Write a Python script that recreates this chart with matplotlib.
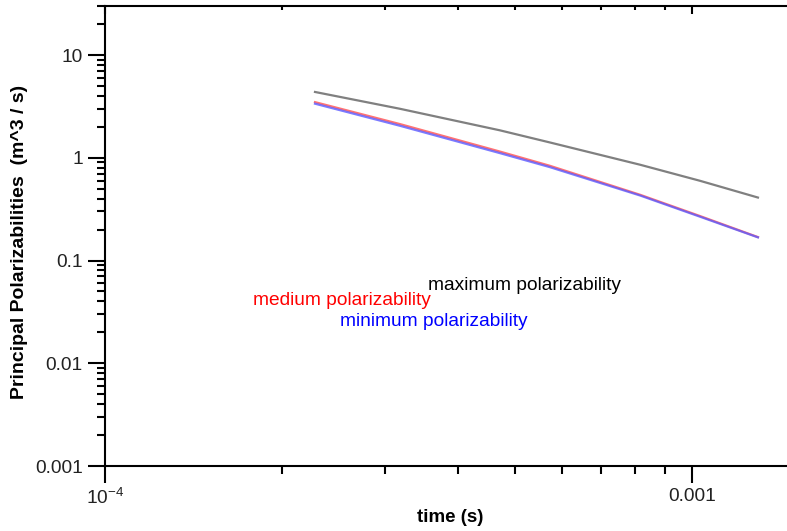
import matplotlib
matplotlib.use("Agg")
import matplotlib.pyplot as plt
from matplotlib.ticker import FixedLocator, FixedFormatter, NullFormatter

plt.rcParams['font.family'] = ['Liberation Sans', 'DejaVu Sans']
plt.rcParams['mathtext.fontset'] = 'custom'
plt.rcParams['mathtext.rm'] = 'Liberation Sans'
plt.rcParams['mathtext.it'] = 'Liberation Sans'

# data
time_s = [2.28e-4, 3.18e-4, 4.71e-4, 5.73e-4, 8.17e-4, 1.033e-3, 1.297e-3]
max_pol = [4.37, 3.00, 1.85, 1.41, 0.855, 0.597, 0.41]
med_pol = [3.48, 2.13, 1.15, 0.836, 0.436, 0.271, 0.169]
min_pol = [3.36, 2.05, 1.11, 0.811, 0.429, 0.267, 0.168]

x_ticks = [1e-4, 1e-3]
x_ticklabels = ['$10^{-4}$', '0.001']
y_ticks = [0.001, 0.01, 0.1, 1, 10]
y_ticklabels = ['0.001', '0.01', '0.1', '1', '10']

fig = plt.figure(figsize=(7.87, 5.31), dpi=100)
ax = fig.add_axes([105/787, 1-466/531, (795-105)/787, (466-6)/531])

ax.plot(time_s, max_pol, color='#808080', lw=1.6)
ax.plot(time_s, med_pol, color='#ff5050', lw=1.6, alpha=0.8)
ax.plot(time_s, min_pol, color='#5a5aff', lw=1.6, alpha=0.8)

ax.set_xscale('log')
ax.set_yscale('log')
ax.set_xlim(1e-4, 1.5e-3)
ax.set_ylim(0.001, 30)

ax.xaxis.set_major_locator(FixedLocator(x_ticks))
ax.xaxis.set_major_formatter(FixedFormatter(x_ticklabels))
ax.xaxis.set_minor_formatter(NullFormatter())
ax.yaxis.set_major_locator(FixedLocator(y_ticks))
ax.yaxis.set_major_formatter(FixedFormatter(y_ticklabels))
ax.yaxis.set_minor_formatter(NullFormatter())

for s in ax.spines.values():
    s.set_linewidth(1.5)
    s.set_color('black')

ax.tick_params(axis='both', which='major', direction='out', length=12, width=1.5,
               labelsize=13.8, labelcolor='#222222', pad=4)
ax.tick_params(axis='both', which='minor', direction='out', length=6, width=1.5)
ax.tick_params(axis='x', which='both', top=True)
ax.tick_params(axis='y', which='both', right=True)
for t in ax.xaxis.get_major_ticks():
    t.tick2line.set_markersize(6)
    t.tick2line.set_marker(3)
for t in ax.xaxis.get_minor_ticks():
    t.tick2line.set_markersize(3)
    t.tick2line.set_marker(3)
for t in ax.yaxis.get_major_ticks():
    t.tick2line.set_markersize(6)
    t.tick2line.set_marker(0)
for t in ax.yaxis.get_minor_ticks():
    t.tick2line.set_markersize(3)
    t.tick2line.set_marker(0)

ax.set_xlabel('time (s)', fontsize=13.5, fontweight='bold')
ax.set_ylabel('Principal Polarizabilities  (m^3 / s)', fontsize=14, fontweight='bold')
ax.xaxis.set_label_coords((450-105)/(795-105), -(509-466)/460)
ax.yaxis.set_label_coords(-(105-28)/(795-105), (466-241.5)/460)

ax.text(3.55e-4, 0.0567, 'maximum polarizability', color='black', fontsize=13.8, va='center', ha='left')
ax.text(1.786e-4, 0.0408, 'medium polarizability', color='red', fontsize=13.8, va='center', ha='left')
ax.text(2.515e-4, 0.0255, 'minimum polarizability', color='blue', fontsize=13.8, va='center', ha='left')

fig.savefig('out.png', dpi=100)
